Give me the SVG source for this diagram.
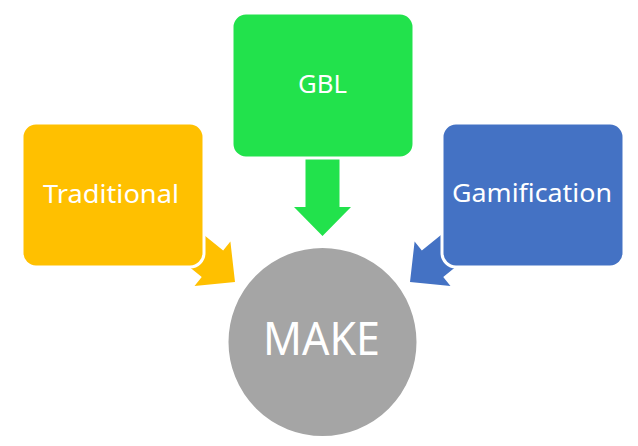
<svg xmlns="http://www.w3.org/2000/svg" xmlns:xlink="http://www.w3.org/1999/xlink" width="638" height="446" viewBox="0 0 638 446">
<style>
.box{stroke:#fff;stroke-width:3}
.lbl{font-family:"Noto Sans","Open Sans",sans-serif;fill:#fff;text-anchor:middle}
</style>
<defs>
<polygon id="arr" points="0,0 -28.5,-29 -17,-29 -17,-110 17,-110 17,-29 28.5,-29"/>
</defs>
<rect width="638" height="446" fill="#fff"/>
<g id="connectors">
<use xlink:href="#arr" href="#arr" transform="translate(322.5,236)" fill="#22E24C"/>
<use xlink:href="#arr" href="#arr" transform="translate(235,282) rotate(-51)" fill="#FFC000"/>
<use xlink:href="#arr" href="#arr" transform="translate(410,282) rotate(51)" fill="#4472C4"/>
</g>
<g id="traditional">
<rect class="box" x="22" y="123" width="182" height="144" rx="14" fill="#FFC000"/>
<text class="lbl" x="111" y="203" font-size="26" textLength="136" lengthAdjust="spacingAndGlyphs">Traditional</text>
</g>
<g id="gbl">
<rect class="box" x="232" y="13" width="182" height="145" rx="14" fill="#22E24C"/>
<text class="lbl" x="322.5" y="93" font-size="26" textLength="49" lengthAdjust="spacingAndGlyphs">GBL</text>
</g>
<g id="gamification">
<rect class="box" x="442" y="123" width="182" height="144" rx="14" fill="#4472C4"/>
<text class="lbl" x="532" y="202" font-size="26" textLength="160" lengthAdjust="spacingAndGlyphs">Gamification</text>
</g>
<g id="make">
<circle cx="322.5" cy="342" r="95" fill="#A5A5A5" stroke="#fff" stroke-width="2"/>
<text class="lbl" x="321.5" y="355" font-size="45" textLength="117" lengthAdjust="spacingAndGlyphs">MAKE</text>
</g>
</svg>
